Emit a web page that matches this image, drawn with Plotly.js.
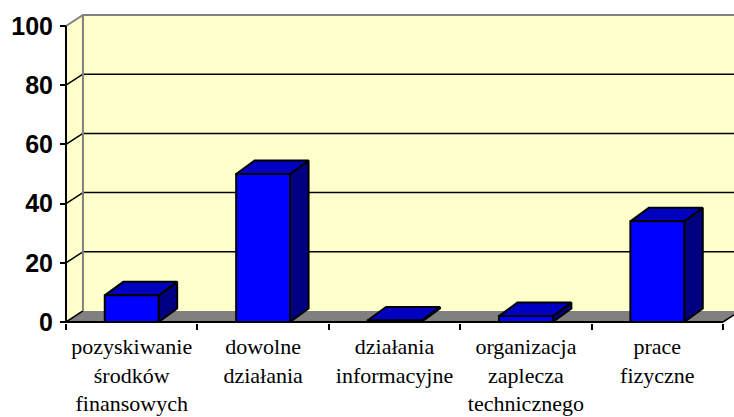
<!DOCTYPE html>
<html>
<head>
<meta charset="utf-8">
<script src="https://cdn.plot.ly/plotly-3.0.1.min.js"></script>
<style>
html,body{margin:0;padding:0;background:#fff;}
#chart{width:734px;height:417px;}
</style>
</head>
<body>
<div id="chart"></div>
<script>
// ---- data ----
const categories = [
  "pozyskiwanie<br>środków<br>finansowych",
  "dowolne<br>działania",
  "działania<br>informacyjne",
  "organizacja<br>zaplecza<br>technicznego",
  "prace<br>fizyczne"
];
const values = [9, 50, 0.5, 2, 34];
const yTickVals = [0, 20, 40, 60, 80, 100];
const yTickText = ["0", "20", "40", "60", "80", "100"];

// ---- geometry (in axis units) ----
const X_RANGE = [-0.5304, 4.5837];
const Y_RANGE = [-0.338, 104.39];
const WDX = 0.129, WDY = 3.72;      // wall depth
const BDX = 0.141, BDY = 4.56;      // bar depth
const BHALF = 0.205;                // half bar width
const x0 = -0.5, x1 = categories.length - 0.5;
const YMAX = 100;

const traces = [];
function poly(xs, ys, fill, lineColor, lw) {
  traces.push({type:'scatter', mode: lw ? 'lines' : 'none', x: xs, y: ys, fill:'toself',
    fillcolor: fill, line:{color: lineColor || fill, width: lw || 0}, hoverinfo:'skip', showlegend:false});
}
function line(xs, ys, color, w) {
  traces.push({type:'scatter', mode:'lines', x: xs, y: ys, line:{color: color, width: w},
    hoverinfo:'skip', showlegend:false});
}

// side wall, back wall, floor
poly([x0, x0, x0+WDX, x0+WDX], [0, YMAX, YMAX+WDY, WDY], '#FFFFCC');
poly([x0+WDX, x0+WDX, x1+WDX+1, x1+WDX+1], [WDY, YMAX+WDY, YMAX+WDY, WDY], '#FFFFCC');
poly([x0, x0+WDX, x1+WDX+1, x1+WDX, x1], [0, WDY, WDY, WDY, 0], '#808080');

// gridlines on back wall and diagonals on side wall
const gx = [], gy = [], dx = [], dy = [];
yTickVals.forEach(v => {
  if (v > 0 && v < YMAX) { gx.push(x0+WDX, x1+WDX+1, null); gy.push(v+WDY, v+WDY, null); }
  if (v < YMAX) { dx.push(x0, x0+WDX, null); dy.push(v, v+WDY, null); }
});
line(gx, gy, '#000000', 1.5);
line(dx, dy, '#000000', 1.5);
// grey frame of walls
line([x0, x0+WDX, x1+WDX+1], [YMAX, YMAX+WDY, YMAX+WDY], '#808080', 2);
line([x0+WDX, x0+WDX], [WDY, YMAX+WDY], '#808080', 2);
// front axes lines
line([x0, x0], [0, YMAX], '#000000', 2);
line([x0, x1], [0, 0], '#000000', 2);
line([x1, x1+WDX], [0, WDY], '#000000', 1.5);

// bars
const fX = [], fY = [], tX = [], tY = [], sX = [], sY = [];
values.forEach((v, i) => {
  const l = i - BHALF, r = i + BHALF;
  fX.push(l, r, r, l, l, null); fY.push(0, 0, v, v, 0, null);
  tX.push(l, r, r+BDX, l+BDX, l, null); tY.push(v, v, v+BDY, v+BDY, v, null);
  sX.push(r, r+BDX, r+BDX, r, r, null); sY.push(0, BDY, v+BDY, v, 0, null);
});
poly(sX, sY, '#000080', '#000000', 2);
poly(tX, tY, '#0000C0', '#000000', 2);
poly(fX, fY, '#0000FF', '#000000', 2);

// dummy trace for the boundary-tick axis
traces.push({type:'scatter', mode:'none', x:[0], y:[0], xaxis:'x2', yaxis:'y', hoverinfo:'skip', showlegend:false});

const boundaries = [];
for (let i = 0; i <= categories.length; i++) boundaries.push(i - 0.5);

const layout = {
  width: 734, height: 417,
  margin: {l: 62, r: 0, t: 13, b: 94, pad: 0},
  paper_bgcolor: '#ffffff', plot_bgcolor: 'rgba(0,0,0,0)',
  showlegend: false,
  hovermode: false,
  xaxis: {
    range: X_RANGE, showgrid: false, zeroline: false, showline: false,
    tickmode: 'array', tickvals: categories.map((c, i) => i), ticktext: categories,
    ticks: '', ticklabelstandoff: 8,
    tickfont: {family: 'Liberation Serif, Times New Roman, serif', size: 22, color: '#000'},
    fixedrange: true
  },
  xaxis2: {
    overlaying: 'x', anchor: 'y', range: X_RANGE, showgrid: false, zeroline: false, showline: false,
    tickmode: 'array', tickvals: boundaries, ticks: 'outside', ticklen: 6, tickwidth: 2, tickcolor: '#000',
    showticklabels: false, fixedrange: true
  },
  yaxis: {
    range: Y_RANGE, anchor: 'free', position: 4/672,
    showgrid: false, zeroline: false, showline: false,
    tickmode: 'array', tickvals: yTickVals, ticktext: yTickText,
    ticks: 'outside', ticklen: 6, tickwidth: 2, tickcolor: '#000', ticklabelstandoff: 2,
    tickfont: {family: 'Liberation Sans, Arial, sans-serif', size: 25, color: '#000', weight: 'bold'},
    fixedrange: true
  }
};

Plotly.newPlot('chart', traces, layout, {staticPlot: true, displayModeBar: false});
</script>
</body>
</html>
